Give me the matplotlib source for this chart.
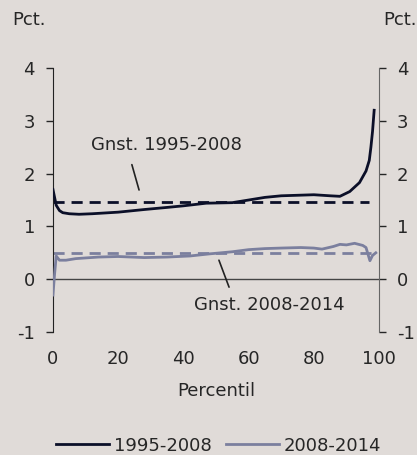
import matplotlib
matplotlib.use("Agg")
import matplotlib.pyplot as plt

plt.rcParams["font.family"] = ["DejaVu Sans"]
plt.rcParams["axes.unicode_minus"] = False

BG = "#e0dbd8"
SORT = "#0b0f28"
GRAA = "#7b7f9e"
TXT = "#262626"

# 1995-2008
pct_a = [0, 0.5, 1, 2, 3, 5, 8, 12, 20, 28, 35, 40, 47, 55, 60, 65, 70, 75,
         80, 85, 88, 91, 94, 96, 97, 97.5, 98, 98.5]
val_a = [1.70, 1.55, 1.40, 1.30, 1.26, 1.24, 1.23, 1.24, 1.27, 1.32, 1.36,
         1.39, 1.44, 1.45, 1.50, 1.55, 1.58, 1.59, 1.60, 1.58, 1.57, 1.66,
         1.83, 2.05, 2.25, 2.50, 2.80, 3.20]
# 2008-2014
pct_b = [0, 0.5, 1, 2, 4, 7, 14, 20, 28, 35, 42, 48, 55, 60, 65, 70, 76, 80,
         82.5, 86, 88, 90, 92.5, 95, 96, 97.2, 98, 99]
val_b = [-0.30, 0.10, 0.44, 0.36, 0.36, 0.39, 0.42, 0.43, 0.41, 0.42, 0.44,
         0.48, 0.52, 0.56, 0.58, 0.59, 0.60, 0.59, 0.57, 0.62, 0.66, 0.65,
         0.68, 0.64, 0.60, 0.35, 0.45, 0.50]

gnst_a = 1.46
gnst_b = 0.49

FS = 13

fig = plt.figure(figsize=(4.17, 4.55), dpi=100, facecolor=BG)
ax = fig.add_axes([0.127, 0.2703, 0.782, 0.5802], facecolor=BG)

ax.axhline(0, color="#444444", lw=1.0, zorder=1)
ax.plot([0, 97], [gnst_a, gnst_a], color=SORT, lw=2, ls=(0, (4, 2.5)), zorder=2)
ax.plot([0, 99], [gnst_b, gnst_b], color=GRAA, lw=2, ls=(0, (4, 2.5)), zorder=2)
ax.plot(pct_a, val_a, color=SORT, lw=2, label="1995-2008", zorder=3)
ax.plot(pct_b, val_b, color=GRAA, lw=2, label="2008-2014", zorder=3)

ax.set_xlim(0, 100)
ax.set_ylim(-1, 4)
ax.set_xticks([0, 20, 40, 60, 80, 100])
ax.set_yticks([-1, 0, 1, 2, 3, 4])
ax.tick_params(axis="x", length=0, pad=13, labelsize=FS, colors=TXT)
ax.tick_params(axis="y", direction="out", length=5, width=1, labelsize=FS,
               colors=TXT, pad=8, right=True, labelright=True)

for s in ("top", "bottom"):
    ax.spines[s].set_visible(False)
ax.spines["left"].set_color("#222222")
ax.spines["right"].set_color("#666666")

ax.set_xlabel("Percentil", fontsize=FS, color=TXT, labelpad=10)

fig.text(0.03, 0.955, "Pct.", fontsize=FS, color=TXT, va="center")
fig.text(0.918, 0.955, "Pct.", fontsize=FS, color=TXT, va="center")

# gennemsnit-labels med streg
ax.text(34.8, 2.55, "Gnst. 1995-2008", fontsize=FS, color=TXT,
        ha="center", va="center")
ax.annotate("", xy=(26.4, 1.69), xytext=(24.2, 2.17),
            arrowprops=dict(arrowstyle="-", color="#222222", lw=1.2,
                            shrinkA=0, shrinkB=0))
ax.text(66.3, -0.48, "Gnst. 2008-2014", fontsize=FS, color=TXT,
        ha="center", va="center")
ax.annotate("", xy=(54.0, -0.15), xytext=(50.9, 0.36),
            arrowprops=dict(arrowstyle="-", color="#222222", lw=1.2,
                            shrinkA=0, shrinkB=0))

fig.legend(loc="lower center", bbox_to_anchor=(0.525, -0.035), ncol=2,
           frameon=False, fontsize=FS, handlelength=2.9, handletextpad=0.3,
           columnspacing=0.8, labelcolor=TXT)

fig.savefig("out.png", dpi=100, facecolor=BG)
